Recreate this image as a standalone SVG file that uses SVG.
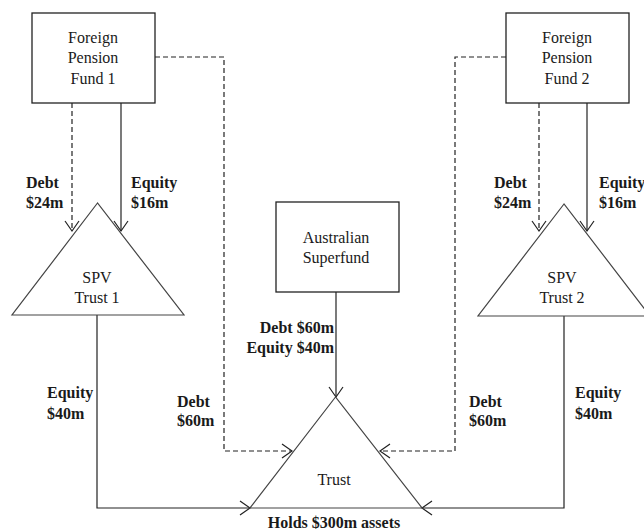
<svg xmlns="http://www.w3.org/2000/svg" width="644" height="530" viewBox="0 0 644 530">
<style>
.box{fill:#fff;stroke:#222;stroke-width:1.3}
.tri{fill:#fff;stroke:#444;stroke-width:1.2}
.t{font-family:"Liberation Serif","Times New Roman",serif;font-size:16px;fill:#1a1a1a;text-anchor:middle}
.b{font-family:"Liberation Serif","Times New Roman",serif;font-size:16px;font-weight:bold;fill:#1a1a1a}
.solid{fill:none;stroke:#222;stroke-width:1.2}
.dash{fill:none;stroke:#222;stroke-width:1.2;stroke-dasharray:5,3}
</style>
<defs>
<marker id="arr" markerUnits="userSpaceOnUse" markerWidth="20" markerHeight="20" viewBox="-12 -10 14 20" refX="0" refY="0" orient="auto">
<path d="M-10,-7 L0,0 L-10,7" fill="none" stroke="#222" stroke-width="1.2"/>
</marker>
</defs>
<rect width="644" height="530" fill="#fff"/>
<g id="connectors">
<path class="dash" d="M72,103 V231" marker-end="url(#arr)"/>
<path class="solid" d="M121,103 V231" marker-end="url(#arr)"/>
<path class="dash" d="M155,57 H224 V451 H292" marker-end="url(#arr)"/>
<path class="dash" d="M506,57 H455 V451 H380" marker-end="url(#arr)"/>
<path class="dash" d="M539,103 V231" marker-end="url(#arr)"/>
<path class="solid" d="M587,103 V231" marker-end="url(#arr)"/>
<path class="solid" d="M97,315 V508 H250" marker-end="url(#arr)"/>
<path class="solid" d="M564,316 V508 H422" marker-end="url(#arr)"/>
<path class="solid" d="M336,292 V397" marker-end="url(#arr)"/>
<text class="b" x="26" y="188">Debt</text>
<text class="b" x="26" y="208">$24m</text>
<text class="b" x="131" y="188">Equity</text>
<text class="b" x="131" y="208">$16m</text>
<text class="b" x="494" y="188">Debt</text>
<text class="b" x="494" y="208">$24m</text>
<text class="b" x="599" y="188">Equity</text>
<text class="b" x="599" y="208">$16m</text>
<text class="b" x="334" y="333" text-anchor="end">Debt $60m</text>
<text class="b" x="334" y="353" text-anchor="end">Equity  $40m</text>
<text class="b" x="47" y="398">Equity</text>
<text class="b" x="47" y="419">$40m</text>
<text class="b" x="177" y="407">Debt</text>
<text class="b" x="177" y="426">$60m</text>
<text class="b" x="469" y="407">Debt</text>
<text class="b" x="469" y="426">$60m</text>
<text class="b" x="575" y="398">Equity</text>
<text class="b" x="575" y="419">$40m</text>
</g>
<g id="fpf1">
<rect class="box" x="32" y="13" width="123" height="90"/>
<text class="t" x="93" y="43">Foreign</text>
<text class="t" x="93" y="63">Pension</text>
<text class="t" x="93" y="84">Fund 1</text>
</g>
<g id="fpf2">
<rect class="box" x="506" y="13" width="123" height="90"/>
<text class="t" x="567" y="43">Foreign</text>
<text class="t" x="567" y="63">Pension</text>
<text class="t" x="567" y="84">Fund 2</text>
</g>
<g id="spv1">
<polygon class="tri" points="97.5,203 12,315 184,315"/>
<text class="t" x="97" y="283">SPV</text>
<text class="t" x="97" y="303">Trust 1</text>
</g>
<g id="spv2">
<polygon class="tri" points="564,204 478,316 650,316"/>
<text class="t" x="562" y="283">SPV</text>
<text class="t" x="562" y="303">Trust 2</text>
</g>
<g id="superfund">
<rect class="box" x="276" y="202" width="123" height="90"/>
<text class="t" x="336" y="243">Australian</text>
<text class="t" x="336" y="263">Superfund</text>
</g>
<g id="trust">
<polygon class="tri" points="335.5,397 250,508 422,508"/>
<text class="t" x="334" y="485">Trust</text>
<text class="b" x="334" y="528" text-anchor="middle">Holds $300m assets</text>
</g>
</svg>
